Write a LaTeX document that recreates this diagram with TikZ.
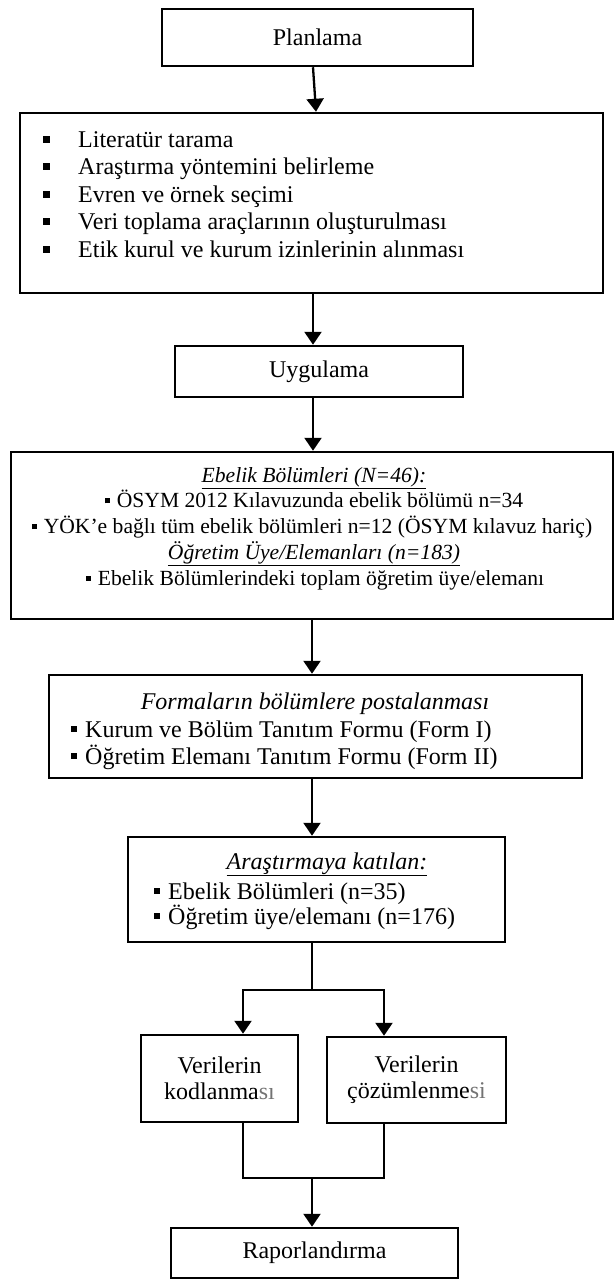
\documentclass[tikz,border=0pt]{standalone}
\usepackage{fontspec}
\setmainfont{Liberation Serif}
\usetikzlibrary{arrows.meta,calc}
\newcommand{\bul}[2]{\raisebox{#2}{\rule{#1}{#1}}}
\begin{document}
\begin{tikzpicture}[x=1pt,y=-1pt,
  box/.style={draw,line width=2.5pt,inner sep=0pt},
  conn/.style={line width=2.3pt},
  arr/.style={conn,-{Triangle[width=17pt,length=13pt]}},
  fbig/.style={font=\fontsize{24}{26}\selectfont},
  fmid/.style={font=\fontsize{21.6}{25}\selectfont},
  ln/.style={inner sep=0pt}]
\useasboundingbox (0,0) rectangle (614,1279);

% boxes
\node[box,fbig,minimum width=311pt,minimum height=57pt] (plan) at (317.5,37.5) {Planlama};
\node[box,minimum width=583pt,minimum height=180pt] (lit) at (311.5,203) {};
\node[box,fbig,minimum width=288pt,minimum height=51pt] (uyg) at (319,371.5) {Uygulama};
\node[box,minimum width=602pt,minimum height=167pt] (pop) at (312,535.5) {};
\node[box,minimum width=533pt,minimum height=103pt] (form) at (315.5,726.5) {};
\node[box,minimum width=377pt,minimum height=105pt] (kat) at (316.5,889.5) {};
\node[box,fbig,align=center,minimum width=157pt,minimum height=87pt] (kod) at (219.5,1078.5) {Verilerin\\kodlanma{\color{black!55}sı}};
\node[box,fbig,align=center,minimum width=179pt,minimum height=86pt] (coz) at (416.5,1080) {Verilerin\\çözümlenme{\color{black!55}si}};
\node[box,fbig,minimum width=287pt,minimum height=50pt] (rap) at (314.5,1253) {Raporlandırma};

% planning list
\node[ln,fbig,anchor=base west] (l1) at (42.5,147) {\bul{7pt}{4.5pt}\hspace{28.5pt}Literatür tarama};
\node[ln,fbig,anchor=base west] (l2) at (42.5,174.5) {\bul{7pt}{4.5pt}\hspace{28.5pt}Araştırma yöntemini belirleme};
\node[ln,fbig,anchor=base west] (l3) at (42.5,202) {\bul{7pt}{4.5pt}\hspace{28.5pt}Evren ve örnek seçimi};
\node[ln,fbig,anchor=base west] (l4) at (42.5,229.5) {\bul{7pt}{4.5pt}\hspace{28.5pt}Veri toplama araçlarının oluşturulması};
\node[ln,fbig,anchor=base west] (l5) at (42.5,257) {\bul{7pt}{4.5pt}\hspace{28.5pt}Etik kurul ve kurum izinlerinin alınması};

% population
\node[ln,fmid,anchor=base] (p1) at (314,482) {\underline{\textit{Ebelik Bölümleri (N=46):}}};
\node[ln,fmid,anchor=base] (p2) at (314,507.75) {\bul{5pt}{4.5pt}\hspace{7pt}ÖSYM 2012 Kılavuzunda ebelik bölümü n=34};
\node[ln,fmid,anchor=base] (p3) at (312,533.5) {\bul{5pt}{4.5pt}\hspace{7pt}YÖK’e bağlı tüm ebelik bölümleri n=12 (ÖSYM kılavuz hariç)};
\node[ln,fmid,anchor=base] (p4) at (314,559.25) {\underline{\textit{Öğretim Üye/Elemanları (n=183)}}};
\node[ln,fmid,anchor=base] (p5) at (315,585) {\bul{5pt}{4.5pt}\hspace{7pt}Ebelik Bölümlerindeki toplam öğretim üye/elemanı};

% forms
\node[ln,fbig,anchor=base] (f1) at (315,709) {\textit{Formaların bölümlere postalanması}};
\node[ln,fbig,anchor=base west] (f2) at (71,737) {\bul{6pt}{5pt}\hspace{8pt}Kurum ve Bölüm Tanıtım Formu (Form I)};
\node[ln,fbig,anchor=base west] (f3) at (71,764) {\bul{6pt}{5pt}\hspace{8pt}Öğretim Elemanı Tanıtım Formu (Form II)};

% participants
\node[ln,fbig,anchor=base] (k1) at (327,869) {\underline{\textit{Araştırmaya katılan:}}};
\node[ln,fbig,anchor=base west] (k2) at (154,899) {\bul{6pt}{5pt}\hspace{8pt}Ebelik Bölümleri (n=35)};
\node[ln,fbig,anchor=base west] (k3) at (154,924) {\bul{6pt}{5pt}\hspace{8pt}Öğretim üye/elemanı (n=176)};

% connectors
\coordinate (cx) at (313,0);
\coordinate (cy) at (312,0);
\coordinate (sp) at (312,990);
\coordinate (la) at (243,990);
\coordinate (ra) at (384,990);
\coordinate (mg) at (312,1178);

\draw[arr] ([xshift=-4.5pt]plan.south) -- ([xshift=4.5pt]lit.north);
\draw[arr] (lit.south -| cx) -- (uyg.north -| cx);
\draw[arr] (uyg.south -| cx) -- (pop.north -| cx);
\draw[arr] (pop.south -| cy) -- (form.north -| cy);
\draw[arr] (form.south -| cy) -- (kat.north -| cy);
\draw[conn] (kat.south -| sp) -- (sp);
\draw[arr] (sp) -| (kod.north -| la);
\draw[arr] (sp) -| (coz.north -| ra);
\draw[conn] (kod.south -| la) |- (mg) -| (coz.south -| ra);
\draw[arr] (mg) -- (rap.north -| mg);
\end{tikzpicture}
\end{document}
